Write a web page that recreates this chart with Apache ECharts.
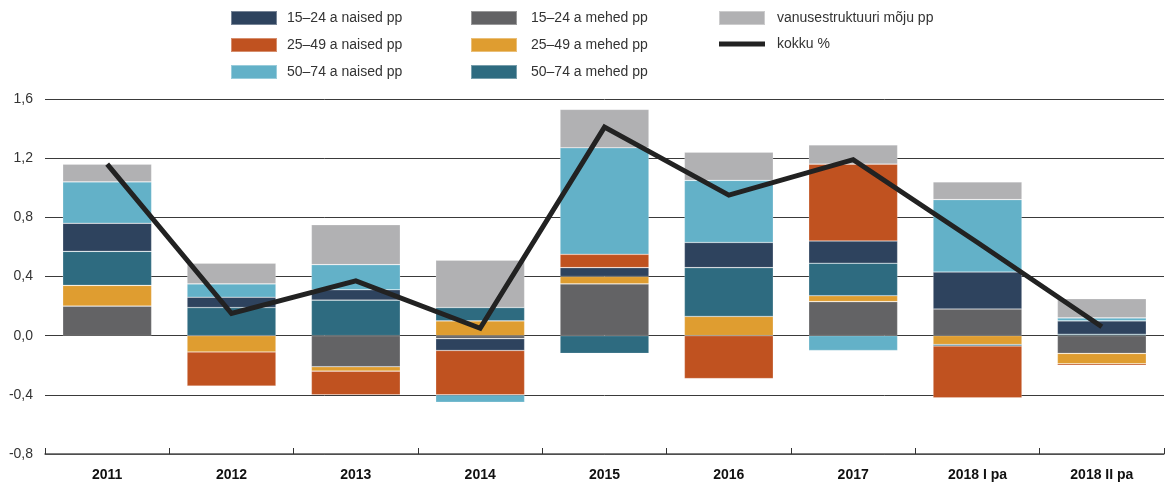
<!DOCTYPE html>
<html>
<head>
<meta charset="utf-8">
<script src="https://cdn.jsdelivr.net/npm/echarts@6/dist/echarts.min.js"></script>
<style>
  html, body { margin: 0; padding: 0; background: #fff; }
  #chart { width: 1171px; height: 484px; }
</style>
</head>
<body>
<div id="chart"></div>
<script>
// Periods on the x axis
const categories = ['2011', '2012', '2013', '2014', '2015', '2016', '2017', '2018 I pa', '2018 II pa'];

// Contributions by age group and sex, percentage points
const naised1524 = [0.19, 0.07, 0.07, -0.08, 0.06, 0.17, 0.15, 0.25, 0.09];
const naised2549 = [0.00, -0.23, -0.16, -0.30, 0.09, -0.29, 0.52, -0.35, -0.01];
const naised5074 = [0.28, 0.09, 0.17, -0.05, 0.72, 0.42, -0.10, 0.49, 0.02];
const mehed1524  = [0.20, 0.00, -0.21, -0.02, 0.35, 0.00, 0.23, 0.18, -0.12];
const mehed2549  = [0.14, -0.11, -0.03, 0.10, 0.05, 0.13, 0.04, -0.06, -0.07];
const mehed5074  = [0.23, 0.19, 0.24, 0.09, -0.12, 0.33, 0.22, -0.01, 0.01];
const vanusMoju  = [0.12, 0.14, 0.27, 0.32, 0.26, 0.19, 0.13, 0.12, 0.13];

// Total change, %
const kokku = [1.16, 0.15, 0.37, 0.05, 1.41, 0.95, 1.19, 0.63, 0.06];

// Y axis ticks
const yMin = -0.8, yMax = 1.6, yStep = 0.4;

const names = {
  n15: '15–24 a naised pp',
  n25: '25–49 a naised pp',
  n50: '50–74 a naised pp',
  m15: '15–24 a mehed pp',
  m25: '25–49 a mehed pp',
  m50: '50–74 a mehed pp',
  vm: 'vanusestruktuuri mõju pp',
  tot: 'kokku %'
};

const colors = {
  n15: '#2e435e',
  n25: '#c05220',
  n50: '#63b1c8',
  m15: '#636365',
  m25: '#df9d30',
  m50: '#2e6b80',
  vm: '#b1b1b3',
  tot: '#222222'
};

function barSeries(key, data) {
  return {
    name: names[key],
    type: 'bar',
    stack: 'kokku',
    data: data,
    barWidth: '71.5%',
    itemStyle: {
      color: colors[key],
      borderColor: 'rgba(255,255,255,0.35)',
      borderWidth: 0.6
    },
    emphasis: { disabled: true }
  };
}

const legendFont = { fontFamily: 'Liberation Sans, Arial, sans-serif', fontSize: 14, color: '#333' };

function legendCol(left, items, pad) {
  return {
    orient: 'vertical',
    left: left,
    top: 10,
    padding: 0,
    itemWidth: 46,
    itemHeight: 14,
    itemGap: 11,
    selectedMode: false,
    icon: 'rect',
    textStyle: Object.assign({ padding: [0, 0, 0, pad] }, legendFont),
    data: items
  };
}

const chart = echarts.init(document.getElementById('chart'), null, { renderer: 'canvas' });

chart.setOption({
  animation: false,
  backgroundColor: '#ffffff',
  legend: [
    legendCol(230, [names.n15, names.n25, names.n50], 5),
    legendCol(470, [names.m15, names.m25, names.m50], 9),
    legendCol(718, [
      names.vm,
      { name: names.tot, icon: 'path://M0,0H46V5H0Z', itemStyle: { color: colors.tot } }
    ], 7)
  ],
  grid: { left: 45, right: 7, top: 99, bottom: 30, containLabel: false },
  xAxis: {
    type: 'category',
    data: categories,
    boundaryGap: true,
    axisLine: { onZero: false, lineStyle: { color: '#555', width: 1.5 } },
    axisTick: { show: true, inside: true, length: 6, lineStyle: { color: '#333' } },
    axisLabel: {
      margin: 14,
      fontFamily: 'Liberation Sans, Arial, sans-serif',
      fontSize: 14,
      fontWeight: 'bold',
      color: '#111'
    },
    splitLine: { show: false }
  },
  yAxis: {
    type: 'value',
    min: yMin,
    max: yMax,
    interval: yStep,
    axisLine: { show: false },
    axisTick: { show: false },
    axisLabel: {
      margin: 12,
      fontFamily: 'Liberation Sans, Arial, sans-serif',
      fontSize: 14,
      color: '#333',
      formatter: v => v.toFixed(1).replace('.', ',')
    },
    splitLine: { show: true, lineStyle: { color: '#3a3a3a', width: 1 } }
  },
  series: [
    barSeries('m15', mehed1524),
    barSeries('m25', mehed2549),
    barSeries('m50', mehed5074),
    barSeries('n15', naised1524),
    barSeries('n25', naised2549),
    barSeries('n50', naised5074),
    barSeries('vm', vanusMoju),
    {
      name: names.tot,
      type: 'line',
      data: kokku,
      symbol: 'none',
      z: 5,
      lineStyle: { color: colors.tot, width: 5, join: 'miter', cap: 'butt' },
      itemStyle: { color: colors.tot },
      emphasis: { disabled: true }
    }
  ]
});
</script>
</body>
</html>
